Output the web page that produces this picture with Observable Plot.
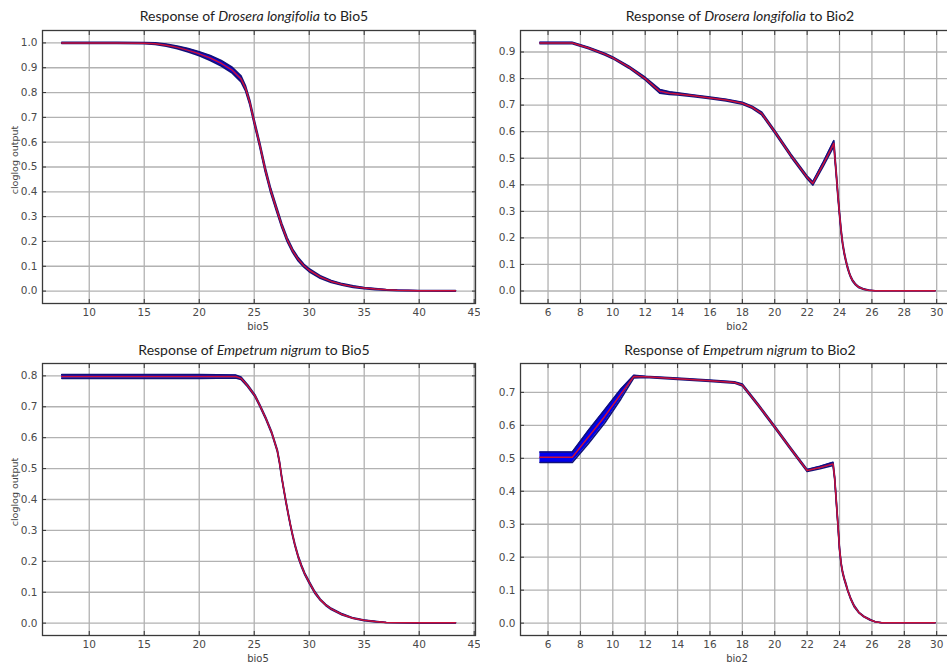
<!DOCTYPE html>
<html>
<head>
<meta charset="utf-8">
<script src="https://cdn.jsdelivr.net/npm/d3@7"></script>
<script src="https://cdn.jsdelivr.net/npm/@observablehq/plot@0.6"></script>
<style>
  body { margin: 0; background: #fff; }
  #fig { position: relative; width: 947px; height: 664px; overflow: hidden; background: #fff; }
  #fig svg { position: absolute; }
  .title { position: absolute; font-family: Lato, "Open Sans", sans-serif; font-size: 14px; color: #1e1e1e;
           white-space: nowrap; transform: translate(-50%, -50%); }
  .xlab { position: absolute; font-family: "DejaVu Sans", sans-serif; font-size: 10px; color: #444;
          white-space: nowrap; transform: translate(-50%, -50%); }
  .ylab { position: absolute; font-family: "DejaVu Sans", sans-serif; font-size: 9.5px; color: #444;
          white-space: nowrap; transform: translate(-50%, -50%) rotate(-90deg); }
</style>
</head>
<body>
<div id="fig"></div>
<script>
// Response curves (cloglog output): mean and standard deviation across replicate models.

// Drosera longifolia vs Bio5
const droseraBio5X    = [7.5, 10, 12.5, 15, 16, 17, 18, 19, 20, 21, 22, 23, 23.8, 24.2, 24.6, 25, 25.5, 26, 26.5, 27, 27.5, 28, 28.5, 29, 29.5, 30, 31, 32, 33, 34, 35, 36, 37, 38, 40, 43.3];
const droseraBio5Mean = [1.000, 1.000, 1.000, 0.999, 0.997, 0.991, 0.982, 0.970, 0.956, 0.939, 0.918, 0.890, 0.855, 0.818, 0.760, 0.682, 0.590, 0.490, 0.405, 0.335, 0.265, 0.207, 0.162, 0.128, 0.103, 0.084, 0.057, 0.039, 0.027, 0.018, 0.012, 0.008, 0.005, 0.003, 0.0015, 0.001];
const droseraBio5Sd   = [0.002, 0.002, 0.002, 0.002, 0.003, 0.004, 0.005, 0.007, 0.008, 0.010, 0.011, 0.012, 0.012, 0.010, 0.009, 0.009, 0.009, 0.009, 0.009, 0.009, 0.008, 0.008, 0.007, 0.007, 0.006, 0.006, 0.005, 0.004, 0.003, 0.003, 0.002, 0.002, 0.001, 0.001, 0.001, 0.001];

// Drosera longifolia vs Bio2
const droseraBio2X    = [5.5, 7.5, 8.5, 9.5, 10, 11, 12, 12.9, 13.5, 14, 15, 16, 17, 18, 18.6, 19.2, 20, 21, 22, 22.35, 23, 23.65, 23.72, 23.8, 23.9, 24.0, 24.1, 24.2, 24.3, 24.4, 24.5, 24.6, 24.7, 24.8, 25.0, 25.2, 25.5, 25.8, 26.2, 27, 29.9];
const droseraBio2Mean = [0.934, 0.934, 0.915, 0.892, 0.878, 0.843, 0.800, 0.752, 0.745, 0.742, 0.735, 0.727, 0.719, 0.707, 0.692, 0.668, 0.600, 0.510, 0.428, 0.405, 0.478, 0.556, 0.500, 0.440, 0.360, 0.290, 0.225, 0.175, 0.140, 0.112, 0.088, 0.068, 0.052, 0.040, 0.024, 0.014, 0.007, 0.003, 0.001, 0.001, 0.001];
const droseraBio2Sd   = [0.003, 0.003, 0.003, 0.003, 0.003, 0.004, 0.005, 0.007, 0.005, 0.004, 0.003, 0.003, 0.003, 0.004, 0.004, 0.005, 0.005, 0.005, 0.005, 0.006, 0.008, 0.010, 0.009, 0.008, 0.007, 0.006, 0.006, 0.005, 0.005, 0.004, 0.004, 0.003, 0.003, 0.003, 0.002, 0.002, 0.001, 0.001, 0.000, 0.000, 0.000];

// Empetrum nigrum vs Bio5
const empetrumBio5X    = [7.5, 10, 15, 20, 23.3, 23.8, 24.4, 25.06, 25.5, 26.06, 26.6, 27.1, 27.3, 27.5, 27.7, 27.9, 28.1, 28.3, 28.5, 28.7, 29, 29.3, 29.6, 30, 30.5, 31, 31.5, 32, 33, 34, 35, 36, 37, 40, 43.3];
const empetrumBio5Mean = [0.798, 0.798, 0.798, 0.798, 0.798, 0.792, 0.768, 0.736, 0.705, 0.662, 0.615, 0.558, 0.520, 0.472, 0.430, 0.390, 0.352, 0.316, 0.283, 0.253, 0.215, 0.185, 0.159, 0.132, 0.100, 0.076, 0.059, 0.046, 0.028, 0.016, 0.009, 0.005, 0.002, 0.001, 0.001];
const empetrumBio5Sd   = [0.006, 0.006, 0.006, 0.006, 0.005, 0.004, 0.003, 0.003, 0.003, 0.003, 0.003, 0.003, 0.003, 0.003, 0.003, 0.003, 0.003, 0.003, 0.003, 0.003, 0.003, 0.003, 0.003, 0.003, 0.003, 0.002, 0.002, 0.002, 0.002, 0.001, 0.001, 0.001, 0.000, 0.000, 0.000];

// Empetrum nigrum vs Bio2
const empetrumBio2X    = [5.5, 7.5, 8.5, 9.5, 10.5, 11.3, 12, 14, 16, 17.5, 18, 19, 20, 21, 22, 22.8, 23.6, 23.7, 23.8, 23.9, 24.0, 24.1, 24.2, 24.3, 24.4, 24.5, 24.7, 24.9, 25.2, 25.5, 25.9, 26.2, 26.6, 29.9];
const empetrumBio2Mean = [0.503, 0.503, 0.565, 0.627, 0.695, 0.748, 0.747, 0.741, 0.735, 0.730, 0.722, 0.660, 0.595, 0.528, 0.463, 0.472, 0.483, 0.440, 0.370, 0.300, 0.225, 0.180, 0.152, 0.133, 0.117, 0.100, 0.073, 0.052, 0.032, 0.020, 0.010, 0.004, 0.001, 0.001];
const empetrumBio2Sd   = [0.016, 0.016, 0.020, 0.020, 0.015, 0.004, 0.002, 0.002, 0.002, 0.002, 0.003, 0.003, 0.003, 0.003, 0.003, 0.004, 0.005, 0.004, 0.004, 0.003, 0.003, 0.003, 0.003, 0.003, 0.003, 0.002, 0.002, 0.002, 0.001, 0.001, 0.001, 0.000, 0.000, 0.000];

// Tick values
const bio5Ticks = [10, 15, 20, 25, 30, 35, 40, 45];
const bio2Ticks = [6, 8, 10, 12, 14, 16, 18, 20, 22, 24, 26, 28, 30];
const ticksTo10 = [0, 0.1, 0.2, 0.3, 0.4, 0.5, 0.6, 0.7, 0.8, 0.9, 1.0];
const ticksTo09 = ticksTo10.slice(0, 10);
const ticksTo08 = ticksTo10.slice(0, 9);
const ticksTo07 = ticksTo10.slice(0, 8);

function table(xs, means, sds) {
  return xs.map((x, i) => ({x, mean: means[i], lo: means[i] - sds[i], hi: means[i] + sds[i]}));
}

const panels = [
  {species: "Drosera longifolia", variable: "Bio5", xlabel: "bio5", ylabel: true,
   data: table(droseraBio5X, droseraBio5Mean, droseraBio5Sd),
   xDomain: [5.75, 45.12], yDomain: [-0.05, 1.05], xTicks: bio5Ticks, yTicks: ticksTo10,
   left: 0, top: 22, width: 480, height: 308, ml: 42, mr: 5, mt: 8, mb: 27,
   titleX: 254, titleY: 15, xlabX: 258, xlabY: 326, ylabX: 14, ylabY: 160},
  {species: "Drosera longifolia", variable: "Bio2", xlabel: "bio2", ylabel: false,
   data: table(droseraBio2X, droseraBio2Mean, droseraBio2Sd),
   xDomain: [4.3, 31.1], yDomain: [-0.047, 0.981], xTicks: bio2Ticks, yTicks: ticksTo09,
   left: 478, top: 22, width: 480, height: 308, ml: 42, mr: 4, mt: 8, mb: 27,
   titleX: 740, titleY: 15, xlabX: 737, xlabY: 326},
  {species: "Empetrum nigrum", variable: "Bio5", xlabel: "bio5", ylabel: true,
   data: table(empetrumBio5X, empetrumBio5Mean, empetrumBio5Sd),
   xDomain: [5.75, 45.12], yDomain: [-0.04, 0.84], xTicks: bio5Ticks, yTicks: ticksTo08,
   left: 0, top: 355, width: 480, height: 309, ml: 42, mr: 5, mt: 8, mb: 29,
   titleX: 254, titleY: 349, xlabX: 258, xlabY: 658, ylabX: 14, ylabY: 492},
  {species: "Empetrum nigrum", variable: "Bio2", xlabel: "bio2", ylabel: false,
   data: table(empetrumBio2X, empetrumBio2Mean, empetrumBio2Sd),
   xDomain: [4.3, 31.1], yDomain: [-0.0375, 0.7875], xTicks: bio2Ticks, yTicks: ticksTo07,
   left: 478, top: 355, width: 480, height: 309, ml: 42, mr: 4, mt: 8, mb: 29,
   titleX: 740, titleY: 349, xlabX: 737, xlabY: 658}
];

const fig = document.getElementById("fig");
const gridStyle = {stroke: "#b2b2b2", strokeOpacity: 1, strokeWidth: 1.3};
const tickStroke = "#333";

for (const p of panels) {
  const chart = Plot.plot({
    width: p.width,
    height: p.height,
    marginLeft: p.ml, marginRight: p.mr, marginTop: p.mt, marginBottom: p.mb,
    x: {domain: p.xDomain},
    y: {domain: p.yDomain},
    style: {fontFamily: "DejaVu Sans, sans-serif", fontSize: "10.5px", background: "transparent"},
    marks: [
      Plot.gridX(p.xTicks, gridStyle),
      Plot.gridY(p.yTicks, gridStyle),
      // standard deviation band (mean ± sd)
      Plot.areaY(p.data, {x: "x", y1: "lo", y2: "hi", fill: "#0000ee"}),
      Plot.lineY(p.data, {x: "x", y: "lo", stroke: "#12127a", strokeWidth: 1.6}),
      Plot.lineY(p.data, {x: "x", y: "hi", stroke: "#12127a", strokeWidth: 1.6}),
      // mean response
      Plot.lineY(p.data, {x: "x", y: "mean", stroke: "#c8103a", strokeWidth: 1.5}),
      Plot.frame({stroke: "#3a3a3a", strokeWidth: 1.3}),
      Plot.axisX(p.xTicks, {anchor: "bottom", tickSize: -4, tickPadding: 9, stroke: tickStroke, fill: "#4a4a4a", label: null}),
      Plot.axisX(p.xTicks, {anchor: "top", tickSize: -4, stroke: tickStroke, fill: "none", label: null}),
      Plot.axisY(p.yTicks, {anchor: "left", tickSize: -4, tickPadding: 9, stroke: tickStroke, fill: "#4a4a4a",
                            tickFormat: d3.format(".1f"), label: null}),
      Plot.axisY(p.yTicks, {anchor: "right", tickSize: -4, stroke: tickStroke, fill: "none", label: null})
    ]
  });
  chart.style.left = p.left + "px";
  chart.style.top = p.top + "px";
  fig.appendChild(chart);

  const title = document.createElement("div");
  title.className = "title";
  title.innerHTML = `Response of <i>${p.species}</i> to ${p.variable}`;
  title.style.left = p.titleX + "px";
  title.style.top = p.titleY + "px";
  fig.appendChild(title);

  const xl = document.createElement("div");
  xl.className = "xlab";
  xl.textContent = p.xlabel;
  xl.style.left = p.xlabX + "px";
  xl.style.top = p.xlabY + "px";
  fig.appendChild(xl);

  if (p.ylabel) {
    const yl = document.createElement("div");
    yl.className = "ylab";
    yl.textContent = "cloglog output";
    yl.style.left = p.ylabX + "px";
    yl.style.top = p.ylabY + "px";
    fig.appendChild(yl);
  }
}
</script>
</body>
</html>
